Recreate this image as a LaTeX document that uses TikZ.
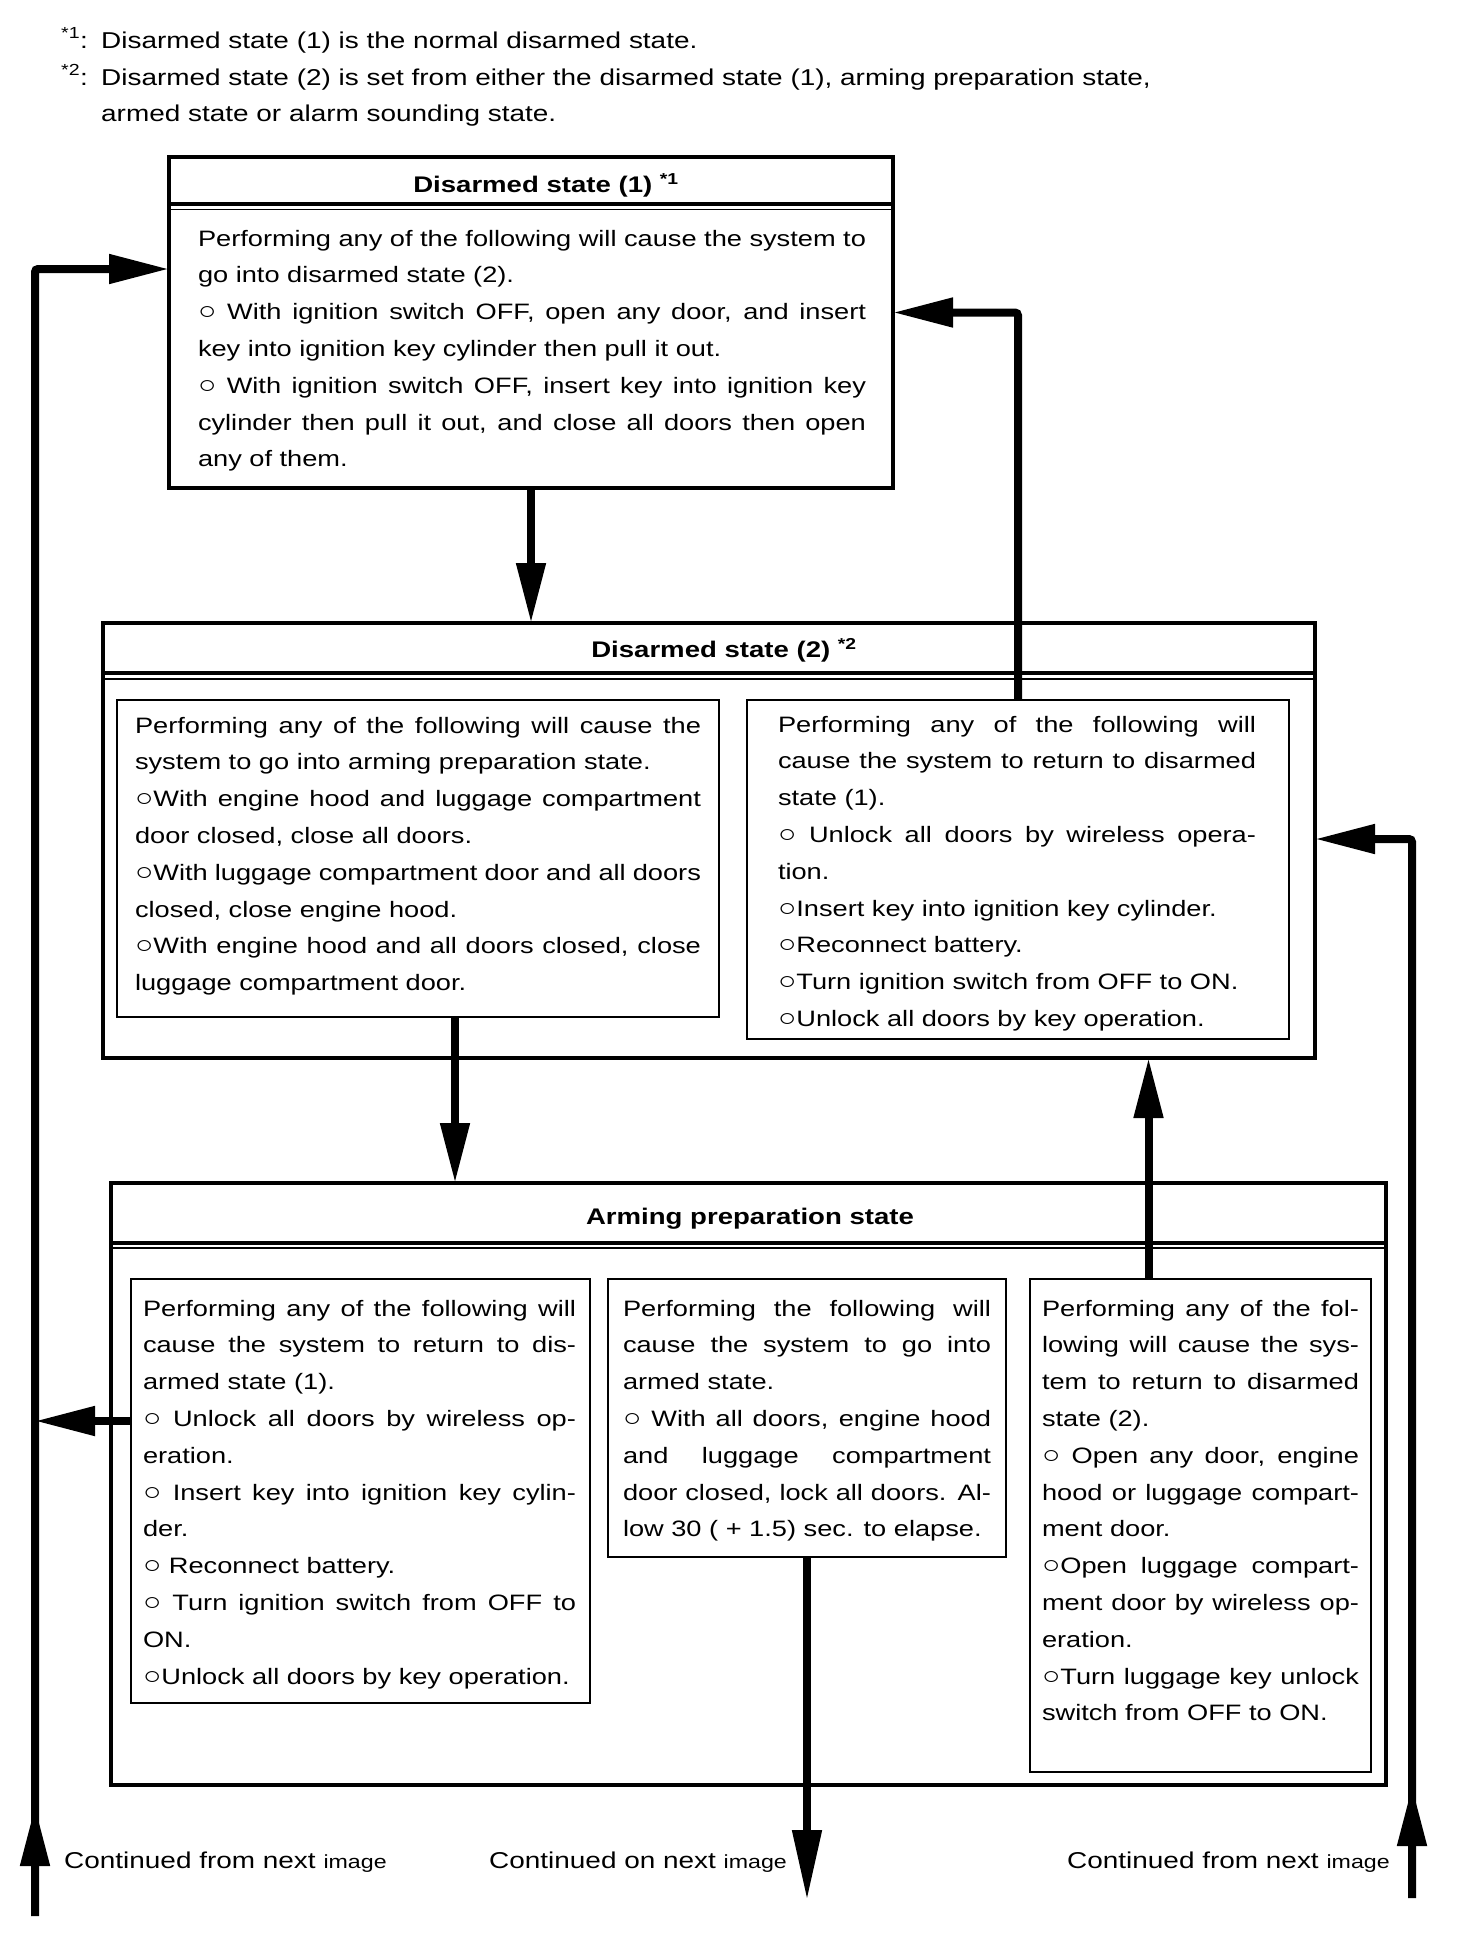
\documentclass[tikz,border=0pt]{standalone}
\usepackage{fontspec}
\setmainfont{Liberation Sans}[FakeStretch=1.22]
\usetikzlibrary{arrows.meta}
\newcommand\bodyfont{\fontsize{22.3pt}{36.8pt}\selectfont}
\newcommand\hdrfont{\fontsize{22.6pt}{26pt}\selectfont\bfseries}
\newcommand\fnfont{\fontsize{22.9pt}{37pt}\selectfont}
\newcommand\smallimg{\fontsize{19pt}{20pt}\selectfont}
\newcommand\bul{\scalebox{1.12}{○}}
\hyphenpenalty=10000
\exhyphenpenalty=10000
\begin{document}
\begin{tikzpicture}[x=1pt,y=-1pt,
  obox/.style={draw, line width=3.4pt, anchor=north west, inner sep=0pt, outer sep=0pt},
  ibox/.style={draw, line width=2pt, anchor=north west, inner sep=0pt, outer sep=0pt},
  txt/.style={anchor=base west, inner sep=0pt, outer sep=0pt, align=justify, font=\bodyfont},
  hdr/.style={anchor=base, inner sep=0pt, font=\hdrfont},
  fn/.style={anchor=base west, inner sep=0pt, font=\fnfont},
  flow/.style={line width=8pt, -{Triangle[length=60pt,width=28pt]}, rounded corners=3pt},
  septhick/.style={line width=3.4pt},
  septhin/.style={line width=1.7pt}]
\useasboundingbox (0,0) rectangle (1472,1938);

% footnotes
\node[fn] (f1m) at (61,48) {\textsuperscript{*1}:};
\node[fn] (f1) at (101,48) {Disarmed state (1) is the normal disarmed state.};
\node[fn] (f2m) at (61,85) {\textsuperscript{*2}:};
\node[fn] (f2) at (101,85) {Disarmed state (2) is set from either the disarmed state (1), arming preparation state,};
\node[fn] (f3) at (101,121) {armed state or alarm sounding state.};

% boxes
\node[obox, minimum width=724pt, minimum height=331pt] (b1) at (169,157) {};
\node[obox, minimum width=1212pt, minimum height=435pt] (b2) at (103,623) {};
\node[ibox, minimum width=602pt, minimum height=317pt] (b2l) at (117,700) {};
\node[ibox, minimum width=542pt, minimum height=339pt] (b2r) at (747,700) {};
\node[obox, minimum width=1275pt, minimum height=602pt] (b3) at (111,1183) {};
\node[ibox, minimum width=459pt, minimum height=424pt] (b3l) at (131,1279) {};
\node[ibox, minimum width=398pt, minimum height=278pt] (b3m) at (608,1279) {};
\node[ibox, minimum width=341pt, minimum height=493pt] (b3r) at (1030,1279) {};

% header separators
\draw[septhick] ([yshift=-47pt]b1.north west) -- ([yshift=-47pt]b1.north east);
\draw[septhin] ([yshift=-52.5pt]b1.north west) -- ([yshift=-52.5pt]b1.north east);
\draw[septhick] ([yshift=-50pt]b2.north west) -- ([yshift=-50pt]b2.north east);
\draw[septhin] ([yshift=-56pt]b2.north west) -- ([yshift=-56pt]b2.north east);
\draw[septhick] ([yshift=-60pt]b3.north west) -- ([yshift=-60pt]b3.north east);
\draw[septhin] ([yshift=-65pt]b3.north west) -- ([yshift=-65pt]b3.north east);

% headers
\node[hdr] (h1) at (546,192) {Disarmed state (1) \textsuperscript{*1}};
\node[hdr] (h2) at (724,657) {Disarmed state (2) \textsuperscript{*2}};
\node[hdr] (h3) at (750,1224) {Arming preparation state};

% texts
\node[txt, text width=668pt] (t1) at (198,246) {Performing any of the following will cause the system to\linebreak go into disarmed state (2).\par
\bul\ With ignition switch OFF, open any door, and insert\linebreak key into ignition key cylinder then pull it out.\par
\bul\ With ignition switch OFF, insert key into ignition key\linebreak cylinder then pull it out, and close all doors then open\linebreak any of them.};

\node[txt, text width=566pt] (t2l) at (135,733) {Performing any of the following will cause the\linebreak system to go into arming preparation state.\par
\bul With engine hood and luggage compartment\linebreak door closed, close all doors.\par
\bul With luggage compartment door and all doors\linebreak closed, close engine hood.\par
\bul With engine hood and all doors closed, close\linebreak luggage compartment door.};

\node[txt, text width=478pt] (t2r) at (778,732) {Performing any of the following will\linebreak cause the system to return to disarmed\linebreak state (1).\par
\bul\ Unlock all doors by wireless opera-\linebreak tion.\par
\bul Insert key into ignition key cylinder.\par
\bul Reconnect battery.\par
\bul Turn ignition switch from OFF to ON.\par
\bul Unlock all doors by key operation.};

\node[txt, text width=433pt] (t3l) at (143,1316) {Performing any of the following will\linebreak cause the system to return to dis-\linebreak armed state (1).\par
\bul\ Unlock all doors by wireless op-\linebreak eration.\par
\bul\ Insert key into ignition key cylin-\linebreak der.\par
\bul\ Reconnect battery.\par
\bul\ Turn ignition switch from OFF to\linebreak ON.\par
\bul Unlock all doors by key operation.};

\node[txt, text width=368pt] (t3m) at (623,1316) {Performing the following will\linebreak cause the system to go into\linebreak armed state.\par
\bul\ With all doors, engine hood\linebreak and luggage compartment\linebreak door closed, lock all doors. Al-\linebreak low 30 ( + 1.5) sec. to elapse.};

\node[txt, text width=317pt] (t3r) at (1042,1316) {Performing any of the fol-\linebreak lowing will cause the sys-\linebreak tem to return to disarmed\linebreak state (2).\par
\bul\ Open any door, engine\linebreak hood or luggage compart-\linebreak ment door.\par
\bul Open luggage compart-\linebreak ment door by wireless op-\linebreak eration.\par
\bul Turn luggage key unlock\linebreak switch from OFF to ON.};

% bottom labels
\node[fn] (c1) at (64,1868) {Continued from next {\smallimg image}};
\node[fn] (c2) at (489,1868) {Continued on next {\smallimg image}};
\node[fn] (c3) at (1067,1868) {Continued from next {\smallimg image}};

% connectors
\coordinate (lbot) at (35,1916);
\coordinate (ltip) at (35,1806);
\coordinate (rbot) at (1412,1898);
\coordinate (rtip) at (1412,1786);
\coordinate (mend) at (807,1900);

\draw[flow] (lbot) |- ([yshift=-112pt]b1.north west);
\draw[flow] (lbot) -- (ltip);
\draw[flow] (b2r.north) |- ([yshift=10pt]b1.east);
\draw[flow] (b1.south) -- (b1.south |- b2.north);
\draw[flow] ([xshift=37pt]b2l.south) -- ([xshift=37pt]b2l.south |- b3.north);
\draw[flow] ([xshift=-52pt]b3r.north) -- ([xshift=-52pt]b3r.north |- b2.south);
\draw[flow] (rbot) |- ([yshift=-216pt]b2.north east);
\draw[flow] (rbot) -- (rtip);
\draw[flow] ([yshift=-142pt]b3l.north west) -- ([yshift=-142pt]b3l.north west -| lbot);
\draw[flow, -{Triangle[length=70pt,width=28pt]}] (b3m.south) -- (mend);
\end{tikzpicture}
\end{document}
